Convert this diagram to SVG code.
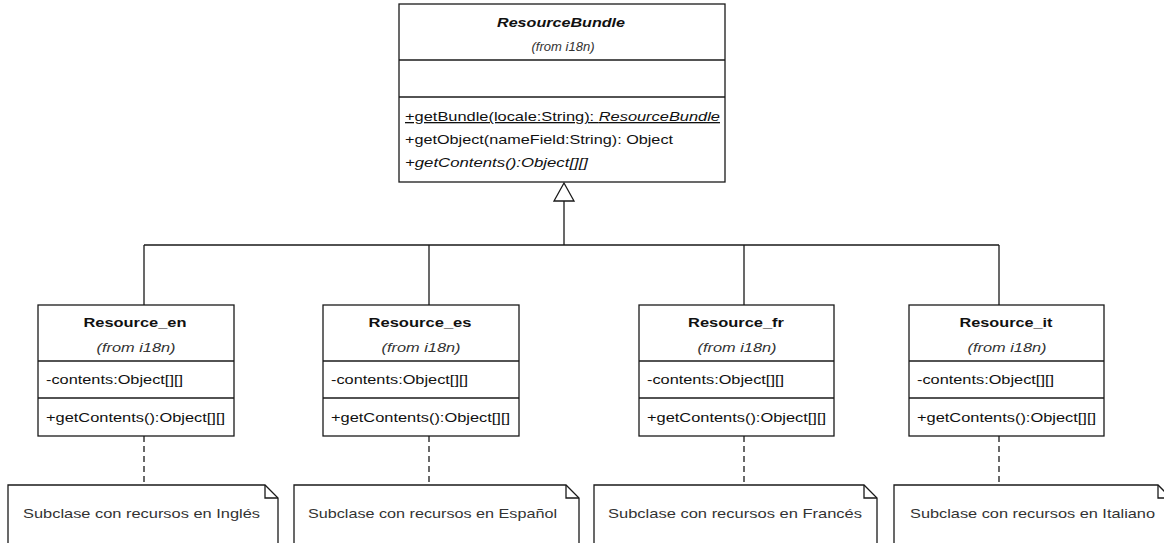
<svg xmlns="http://www.w3.org/2000/svg" width="1164" height="543" viewBox="0 0 1164 543">
<style>
  .box { fill: #fff; stroke: #1a1a1a; stroke-width: 1.3; }
  .div { stroke: #1a1a1a; stroke-width: 1.3; }
  .conn { fill: none; stroke: #1a1a1a; stroke-width: 1.3; }
  .dash { fill: none; stroke: #1a1a1a; stroke-width: 1.3; stroke-dasharray: 6 4; }
  text { font-family: "Liberation Sans", Arial, sans-serif; font-size: 13px; fill: #111; }
  .title { font-weight: bold; text-anchor: middle; }
  .from { font-style: italic; text-anchor: middle; font-size: 12px; fill: #333; }
  .it { font-style: italic; }
  .note { fill: #fff; stroke: #1a1a1a; stroke-width: 1.3; }
  .ntext { fill: #333; }
</style>
<rect width="1164" height="543" fill="#fff"/>

<g id="connectors">
  <path class="conn" d="M564 201 V245 M144 245 H999 M144 245 V305 M429 245 V305 M744 245 V305 M999 245 V305"/>
  <polygon points="564,183 554,201 574,201" fill="#fff" stroke="#1a1a1a" stroke-width="1.3"/>
  <line class="dash" x1="144" y1="436" x2="144" y2="485"/>
  <line class="dash" x1="429" y1="436" x2="429" y2="485"/>
  <line class="dash" x1="744" y1="436" x2="744" y2="485"/>
  <line class="dash" x1="999" y1="436" x2="999" y2="485"/>
</g>

<g id="ResourceBundle">
  <rect class="box" x="399" y="4" width="326" height="178"/>
  <line class="div" x1="399" y1="60" x2="725" y2="60"/>
  <line class="div" x1="399" y1="97" x2="725" y2="97"/>
  <text class="title it" x="561" y="27" textLength="128" lengthAdjust="spacingAndGlyphs">ResourceBundle</text>
  <text class="from" x="563" y="51" textLength="63" lengthAdjust="spacingAndGlyphs">(from i18n)</text>
  <text x="405" y="121" text-decoration="underline" textLength="315" lengthAdjust="spacingAndGlyphs">+getBundle(locale:String): <tspan class="it">ResourceBundle</tspan></text>
  <text x="405" y="144" textLength="268" lengthAdjust="spacingAndGlyphs">+getObject(nameField:String): Object</text>
  <text class="it" x="405" y="167" textLength="183" lengthAdjust="spacingAndGlyphs">+getContents():Object[][]</text>
</g>

<g id="Resource_en">
  <rect class="box" x="38" y="305" width="196" height="131"/>
  <line class="div" x1="38" y1="361" x2="234" y2="361"/>
  <line class="div" x1="38" y1="398" x2="234" y2="398"/>
  <text class="title" x="135" y="327" textLength="103" lengthAdjust="spacingAndGlyphs">Resource_en</text>
  <text class="from" x="136" y="352" textLength="79" lengthAdjust="spacingAndGlyphs">(from i18n)</text>
  <text x="46" y="384" textLength="137" lengthAdjust="spacingAndGlyphs">-contents:Object[][]</text>
  <text x="46" y="422" textLength="179" lengthAdjust="spacingAndGlyphs">+getContents():Object[][]</text>
</g>

<g id="Resource_es">
  <rect class="box" x="323" y="305" width="196" height="131"/>
  <line class="div" x1="323" y1="361" x2="519" y2="361"/>
  <line class="div" x1="323" y1="398" x2="519" y2="398"/>
  <text class="title" x="420" y="327" textLength="103" lengthAdjust="spacingAndGlyphs">Resource_es</text>
  <text class="from" x="421" y="352" textLength="79" lengthAdjust="spacingAndGlyphs">(from i18n)</text>
  <text x="331" y="384" textLength="137" lengthAdjust="spacingAndGlyphs">-contents:Object[][]</text>
  <text x="331" y="422" textLength="179" lengthAdjust="spacingAndGlyphs">+getContents():Object[][]</text>
</g>

<g id="Resource_fr">
  <rect class="box" x="639" y="305" width="195" height="131"/>
  <line class="div" x1="639" y1="361" x2="834" y2="361"/>
  <line class="div" x1="639" y1="398" x2="834" y2="398"/>
  <text class="title" x="736" y="327" textLength="96" lengthAdjust="spacingAndGlyphs">Resource_fr</text>
  <text class="from" x="737" y="352" textLength="79" lengthAdjust="spacingAndGlyphs">(from i18n)</text>
  <text x="647" y="384" textLength="137" lengthAdjust="spacingAndGlyphs">-contents:Object[][]</text>
  <text x="647" y="422" textLength="179" lengthAdjust="spacingAndGlyphs">+getContents():Object[][]</text>
</g>

<g id="Resource_it">
  <rect class="box" x="909" y="305" width="195" height="131"/>
  <line class="div" x1="909" y1="361" x2="1104" y2="361"/>
  <line class="div" x1="909" y1="398" x2="1104" y2="398"/>
  <text class="title" x="1006" y="327" textLength="93" lengthAdjust="spacingAndGlyphs">Resource_it</text>
  <text class="from" x="1007" y="352" textLength="79" lengthAdjust="spacingAndGlyphs">(from i18n)</text>
  <text x="917" y="384" textLength="137" lengthAdjust="spacingAndGlyphs">-contents:Object[][]</text>
  <text x="917" y="422" textLength="179" lengthAdjust="spacingAndGlyphs">+getContents():Object[][]</text>
</g>

<g id="note_en">
  <path class="note" d="M8 560 V485 H265 L278 498 V560"/>
  <path class="conn" d="M265 485 V498 H278"/>
  <text class="ntext" x="23" y="518" textLength="237" lengthAdjust="spacingAndGlyphs">Subclase con recursos en Inglés</text>
</g>

<g id="note_es">
  <path class="note" d="M294 560 V485 H566 L579 498 V560"/>
  <path class="conn" d="M566 485 V498 H579"/>
  <text class="ntext" x="308" y="518" textLength="249" lengthAdjust="spacingAndGlyphs">Subclase con recursos en Español</text>
</g>

<g id="note_fr">
  <path class="note" d="M594 560 V485 H864 L877 498 V560"/>
  <path class="conn" d="M864 485 V498 H877"/>
  <text class="ntext" x="608" y="518" textLength="254" lengthAdjust="spacingAndGlyphs">Subclase con recursos en Francés</text>
</g>

<g id="note_it">
  <path class="note" d="M894 560 V485 H1158 L1171 498 V560"/>
  <path class="conn" d="M1158 485 V498 H1171"/>
  <text class="ntext" x="910" y="518" textLength="245" lengthAdjust="spacingAndGlyphs">Subclase con recursos en Italiano</text>
</g>
</svg>
